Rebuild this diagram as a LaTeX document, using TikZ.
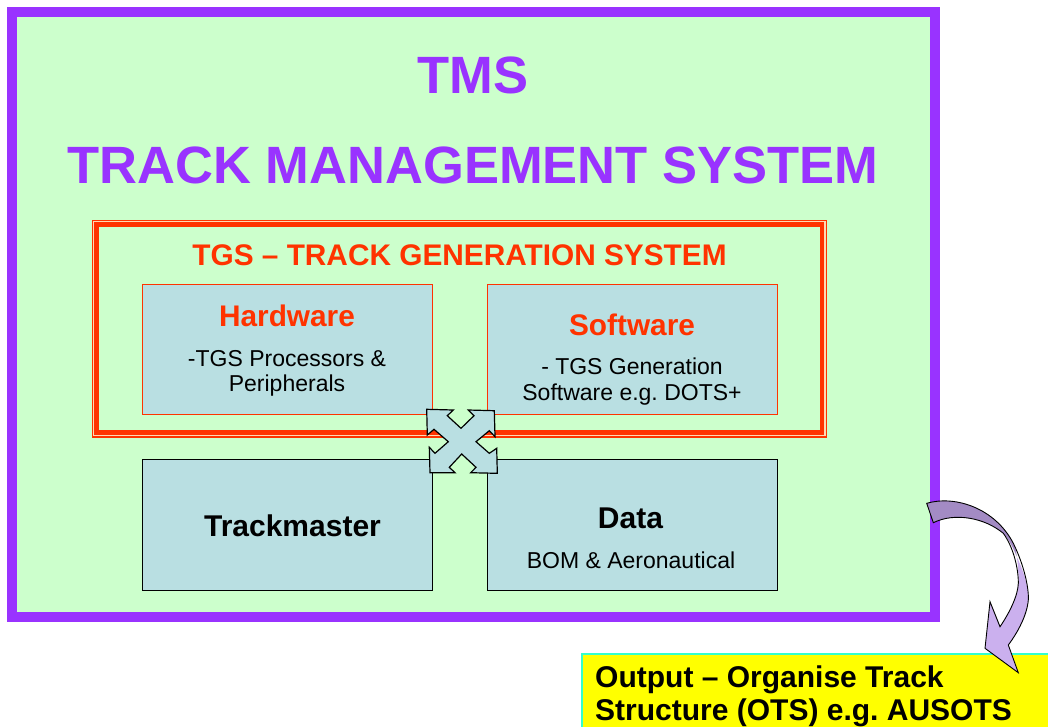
\documentclass[tikz,border=0pt]{standalone}
\usepackage{fontspec}
\setmainfont{Liberation Sans}
\frenchspacing
\definecolor{bggreen}{HTML}{CCFFCC}
\definecolor{tmspurple}{HTML}{9933FF}
\definecolor{tgsred}{HTML}{FF3300}
\definecolor{boxblue}{HTML}{B9DFE2}
\definecolor{outyellow}{HTML}{FFFF00}
\definecolor{outborder}{HTML}{33FFCC}
\definecolor{gappeach}{HTML}{FFD9B3}
\definecolor{arrowdark}{HTML}{A38BC4}
\definecolor{arrowlight}{HTML}{CBB0EE}
\tikzset{
  innerbox/.style={draw=tgsred, line width=1pt, fill=boxblue, minimum width=290pt, minimum height=130pt, inner sep=0pt},
  lowerbox/.style={draw=black, line width=1pt, fill=boxblue, minimum width=290pt, minimum height=131pt, inner sep=0pt},
  bigtitle/.style={text=tmspurple, font=\fontsize{52.5}{60}\selectfont\bfseries, anchor=base, inner sep=0pt},
  redtitle/.style={text=tgsred, font=\fontsize{29.8}{34}\selectfont\bfseries, anchor=base, inner sep=0pt},
  boldlabel/.style={text=black, font=\fontsize{30}{34}\selectfont\bfseries, anchor=base, inner sep=0pt},
  plainlabel/.style={text=black, font=\fontsize{23}{26}\selectfont, anchor=base, inner sep=0pt},
}
\begin{document}
\begin{tikzpicture}[x=1pt,y=-1pt]
\useasboundingbox (0,0) rectangle (1048,726);
\fill[white] (0,0) rectangle (1048,726);
% main frame
\node[draw=tmspurple, line width=10pt, fill=bggreen, minimum width=923pt, minimum height=605pt, inner sep=0pt] (frame) at (473.5,314.5) {};
\node[bigtitle] (tms) at (473,93) {TMS};
\node[bigtitle] (tmsfull) at (473,183) {TRACK MANAGEMENT SYSTEM};
% TGS double border
\draw[gappeach, line width=2pt] (94,222) rectangle (824.5,435);
\draw[tgsred, line width=1.2pt] (92.3,220.3) rectangle (826.5,437);
\node[draw=tgsred, line width=4.8pt, minimum width=725.5pt, minimum height=207.8pt, inner sep=0pt] (tgs) at (459.25,328.6) {};
\node[redtitle] (tgstitle) at (459.5,265) {TGS -- TRACK GENERATION SYSTEM};
% hardware / software
\node[innerbox] (hw) at (287,349) {};
\node[innerbox] (sw) at (632,349) {};
\node[redtitle] (hwt) at (287,326) {Hardware};
\node[plainlabel] (hw1) at (287,366) {-TGS Processors \&};
\node[plainlabel] (hw2) at (287,391) {Peripherals};
\node[redtitle] (swt) at (632,335) {Software};
\node[plainlabel] (sw1) at (632,374.5) {- TGS Generation};
\node[plainlabel] (sw2) at (632,400) {Software e.g. DOTS+};
% trackmaster / data
\node[lowerbox] (tm) at (287,524.5) {};
\node[lowerbox] (data) at (632,524.5) {};
\node[boldlabel] (tmt) at (292.5,536) {Trackmaster};
\node[boldlabel] (datat) at (630.5,528) {Data};
\node[plainlabel] (data1) at (631,568) {BOM \& Aeronautical};
% four-headed cross arrow
\draw[fill=boxblue, draw=black, line width=1.2pt, line join=miter]
  (426.7,409.3) -- (453.3,410) -- (447.3,415.7) -- (461,428.3) -- (474,415.7) -- (468.3,410)
  -- (494.3,410.7) -- (495,436.7) -- (489.3,430.7) -- (476,441.7) -- (489.3,453.3) -- (496.7,448.3)
  -- (497.3,473.3) -- (470.7,472.7) -- (476,467.3) -- (461.7,454) -- (449.3,467.3) -- (455,472.7)
  -- (430,472.7) -- (429.3,447.3) -- (435,453.3) -- (448.3,441.7) -- (434,429.3) -- (427.3,435) -- cycle;
% output box
\node[draw=outborder, line width=1.5pt, fill=outyellow, minimum width=480pt, minimum height=90pt, inner sep=0pt, anchor=north west] (out) at (581,653) {};
\node[boldlabel, anchor=base west] (out1) at (595,687) {Output -- Organise Track};
\node[boldlabel, anchor=base west] (out2) at (595,720) {Structure (OTS) e.g. AUSOTS};
% curved block arrow
\fill[arrowlight] (1016.7,556.7) .. controls (1024,572) and (1029,588) .. (1028.3,600)
  .. controls (1027,615) and (1018,632) .. (1008.3,645) -- (1018.3,672.7) -- (985,648.3) -- (990,601.7) -- (1000,626.7)
  .. controls (1010,612) and (1018,595) .. (1018.3,583.3) .. controls (1018.5,572) and (1018,563) .. cycle;
\fill[arrowdark] (926.7,503.3) .. controls (955,495) and (995,508) .. (1013.3,543.3)
  .. controls (1015.5,548) and (1016.5,552) .. (1016.7,556.7)
  .. controls (1012,544) and (1005,535) .. (1003.3,533.3)
  .. controls (985,518) and (955,512) .. (933.3,522.7) -- cycle;
\draw[black, line width=0.9pt, line join=miter]
  (926.7,503.3) .. controls (955,495) and (995,508) .. (1013.3,543.3)
  .. controls (1024,565) and (1029,588) .. (1028.3,600)
  .. controls (1027,615) and (1018,632) .. (1008.3,645) -- (1018.3,672.7) -- (985,648.3) -- (990,601.7) -- (1000,626.7)
  .. controls (1010,612) and (1018,595) .. (1018.3,583.3) .. controls (1018.5,570) and (1014,548) .. (1003.3,533.3)
  .. controls (985,518) and (955,512) .. (933.3,522.7) -- cycle;
\end{tikzpicture}
\end{document}
